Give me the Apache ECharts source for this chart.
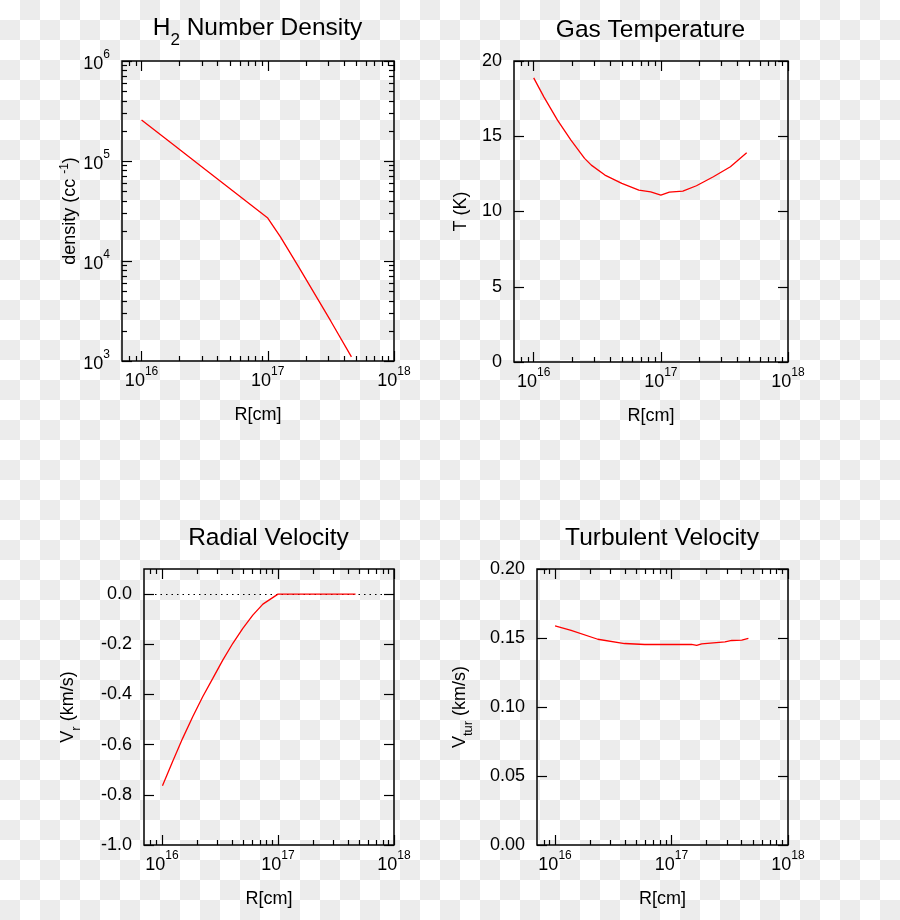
<!DOCTYPE html>
<html>
<head>
<meta charset="utf-8">
<script src="https://cdn.jsdelivr.net/npm/echarts@6/dist/echarts.min.js"></script>
<style>
html,body{margin:0;padding:0;}
body{width:900px;height:920px;background-color:#fff;
background-image:conic-gradient(#ececec 0 25%, #fff 0 50%, #ececec 0 75%, #fff 0);
background-size:40px 40px;}
#chart{width:900px;height:920px;}
</style>
</head>
<body>
<div id="chart"></div>
<script>
// ---- data ----
const R_DENS = [1e16, 1.78e16, 3.16e16, 5.62e16, 1e17, 1.26e17, 1.78e17, 3.16e17, 4.6e17];
const DENSITY = [2.57e5, 1.46e5, 8.3e4, 4.73e4, 2.69e4, 1.74e4, 8.5e3, 2.5e3, 1.1e3];

const R_TEMP = [1e16, 1.202e16, 1.538e16, 1.963e16, 2.512e16, 2.838e16, 3.631e16, 4.932e16, 6.714e16, 8.318e16, 1e17, 1.167e17, 1.489e17, 1.905e17, 2.588e17, 3.524e17, 4.732e17];
const TEMPERATURE = [18.88, 17.62, 16.07, 14.74, 13.53, 13.08, 12.42, 11.87, 11.42, 11.31, 11.09, 11.29, 11.35, 11.71, 12.31, 12.97, 13.9];

const R_VRAD = [1.01e16, 1.233e16, 1.507e16, 1.841e16, 2.244e16, 2.742e16, 3.342e16, 4.083e16, 4.977e16, 6.067e16, 7.413e16, 1e17, 4.66e17];
const V_RADIAL = [-0.764, -0.668, -0.575, -0.489, -0.409, -0.336, -0.263, -0.196, -0.137, -0.084, -0.040, 0, 0];

const R_VTUR = [1e16, 1.374e16, 2.328e16, 3.954e16, 5.888e16, 1e17, 1.486e17, 1.644e17, 1.816e17, 2.877e17, 3.289e17, 4.009e17, 4.571e17];
const V_TURB = [0.1587, 0.1556, 0.1491, 0.146, 0.1453, 0.1453, 0.1453, 0.1446, 0.1457, 0.1472, 0.1482, 0.1484, 0.1498];

const TITLES = ['{n|H}{sub|2}{n| Number Density}', 'Gas Temperature', 'Radial Velocity', 'Turbulent Velocity'];
const X_NAME = 'R[cm]';
const Y_NAMES = ['{n|density (cc }{sup|-1}{n|)}', 'T (K)', '{n|V}{sub|r}{n| (km/s)}', '{n|V}{sub|tur}{n| (km/s)}'];

const X_MAJOR = [1e16, 1e17, 0.99999e18];
const X_MINOR = [8e15, 9e15, 2e16, 3e16, 4e16, 5e16, 6e16, 7e16, 8e16, 9e16, 2e17, 3e17, 4e17, 5e17, 6e17, 7e17, 8e17, 9e17];
const DENS_MAJOR = [1.00001e3, 1e4, 1e5, 0.99999e6];
const DENS_MINOR = [2e3,3e3,4e3,5e3,6e3,7e3,8e3,9e3,2e4,3e4,4e4,5e4,6e4,7e4,8e4,9e4,2e5,3e5,4e5,5e5,6e5,7e5,8e5,9e5];
const TEMP_TICKS = [0, 5, 10, 15, 20];
const VRAD_TICKS = [-1.0, -0.8, -0.6, -0.4, -0.2, 0.0];
const VTUR_TICKS = [0, 0.05, 0.10, 0.15, 0.20];

// ---- layout ----
const FONT = '"Liberation Sans", Arial, Helvetica, sans-serif';
const INK = '#000';
const GRIDS = [
  {left: 122, top: 61, width: 272, height: 300},
  {left: 514, top: 61, width: 274, height: 301},
  {left: 144, top: 569, width: 250, height: 276},
  {left: 537, top: 569, width: 251, height: 276}
];
const TITLE_TOPS = [8, 13, 521, 521];
const TITLE_SHIFT = -5.5;
const X_MIN = 7e15, X_MAX = 1e18;
const Y_NAME_GAP = [41, 44, 65, 66];

const powRich = {
  b: {fontSize: 18, fontFamily: FONT, color: INK, lineHeight: 24, verticalAlign: 'bottom'},
  s: {fontSize: 12, fontFamily: FONT, color: INK, lineHeight: 24, verticalAlign: 'top'}
};
function powFmt(v) {
  const e = Math.round(Math.log10(v));
  return '{b|10}{s|' + e + '}';
}
const nameRich = {
  n: {fontSize: 18, fontFamily: FONT, color: INK, lineHeight: 22, verticalAlign: 'middle'},
  sub: {fontSize: 13, fontFamily: FONT, color: INK, lineHeight: 22, verticalAlign: 'bottom', padding: [0, 0, -4, 0]},
  sup: {fontSize: 12, fontFamily: FONT, color: INK, lineHeight: 22, verticalAlign: 'top'}
};

const grids = GRIDS.map(g => Object.assign({show: true, borderColor: '#000', borderWidth: 1.5, backgroundColor: 'transparent'}, g));

const xAxes = [];
const yAxes = [];

function logX(gi, position, ticks, len, withLabel) {
  const ax = {
    type: 'log', logBase: 10, gridIndex: gi, position: position, min: X_MIN, max: X_MAX,
    axisLine: {show: false, onZero: false},
    splitLine: {show: false},
    axisTick: {show: true, inside: true, length: len, customValues: ticks, lineStyle: {color: INK, width: 1.2}},
    axisLabel: {show: false}
  };
  if (withLabel) {
    ax.axisLabel = {show: true, customValues: X_MAJOR, margin: 5, formatter: powFmt, rich: powRich};
    ax.name = X_NAME;
    ax.nameLocation = 'middle';
    ax.nameGap = 45;
    ax.nameTextStyle = {fontSize: 18, fontFamily: FONT, color: INK};
  }
  xAxes.push(ax);
  return xAxes.length - 1;
}

function yAx(gi, position, cfg) {
  const ax = Object.assign({
    gridIndex: gi, position: position,
    axisLine: {show: false, onZero: false}, splitLine: {show: false}
  }, cfg);
  yAxes.push(ax);
  return yAxes.length - 1;
}

const series = [];
const DATA_SETS = [
  [R_DENS, DENSITY], [R_TEMP, TEMPERATURE], [R_VRAD, V_RADIAL], [R_VTUR, V_TURB]
];

for (let gi = 0; gi < 4; gi++) {
  const xMain = logX(gi, 'bottom', X_MAJOR, 10, true);
  logX(gi, 'bottom', X_MINOR, 5, false);
  logX(gi, 'top', X_MAJOR, 10, false);
  logX(gi, 'top', X_MINOR, 5, false);

  let yMain;
  const nameCfg = {
    name: Y_NAMES[gi], nameLocation: 'middle', nameRotate: 90, nameGap: Y_NAME_GAP[gi],
    nameTextStyle: {fontSize: 18, fontFamily: FONT, color: INK, rich: nameRich}
  };
  if (gi === 0) {
    const base = {type: 'log', logBase: 10, min: 1e3, max: 1e6};
    yMain = yAx(gi, 'left', Object.assign({}, base, nameCfg, {
      axisTick: {show: true, inside: true, length: 10, customValues: DENS_MAJOR, lineStyle: {color: INK, width: 1.2}},
      axisLabel: {show: true, customValues: DENS_MAJOR, margin: 12, formatter: powFmt, rich: powRich}
    }));
    yAx(gi, 'left', Object.assign({}, base, {
      axisTick: {show: true, inside: true, length: 5, customValues: DENS_MINOR, lineStyle: {color: INK, width: 1.2}},
      axisLabel: {show: false}
    }));
    yAx(gi, 'right', Object.assign({}, base, {
      axisTick: {show: true, inside: true, length: 10, customValues: DENS_MAJOR, lineStyle: {color: INK, width: 1.2}},
      axisLabel: {show: false}
    }));
    yAx(gi, 'right', Object.assign({}, base, {
      axisTick: {show: true, inside: true, length: 5, customValues: DENS_MINOR, lineStyle: {color: INK, width: 1.2}},
      axisLabel: {show: false}
    }));
  } else {
    let base, ticks, dec;
    if (gi === 1) { base = {type: 'value', min: 0, max: 20}; ticks = TEMP_TICKS; dec = 0; }
    if (gi === 2) { base = {type: 'value', min: -1.0, max: 0.1}; ticks = VRAD_TICKS; dec = 1; }
    if (gi === 3) { base = {type: 'value', min: 0, max: 0.2}; ticks = VTUR_TICKS; dec = 2; }
    yMain = yAx(gi, 'left', Object.assign({}, base, nameCfg, {
      axisTick: {show: true, inside: true, length: 10, customValues: ticks, lineStyle: {color: INK, width: 1.2}},
      axisLabel: {show: true, customValues: ticks, margin: 12, fontSize: 18, fontFamily: FONT, color: INK,
        formatter: v => Number(v).toFixed(dec)}
    }));
    yAx(gi, 'right', Object.assign({}, base, {
      axisTick: {show: true, inside: true, length: 10, customValues: ticks, lineStyle: {color: INK, width: 1.2}},
      axisLabel: {show: false}
    }));
  }

  const [xs, ys] = DATA_SETS[gi];
  const s = {
    type: 'line', xAxisIndex: xMain, yAxisIndex: yMain,
    data: xs.map((x, i) => [x, ys[i]]),
    showSymbol: false, symbol: 'none', smooth: false,
    lineStyle: {color: '#ff0000', width: 1.3},
    z: 5, silent: true, animation: false
  };
  if (gi === 2) {
    s.markLine = {
      silent: true, symbol: 'none', animation: false, label: {show: false},
      lineStyle: {color: '#000', type: [1.5, 4], width: 1},
      data: [{yAxis: 0}]
    };
  }
  series.push(s);
}

const titles = TITLES.map((t, i) => {
  const g = GRIDS[i];
  return {
    text: t, left: g.left + g.width / 2 + TITLE_SHIFT, top: TITLE_TOPS[i], textAlign: 'center',
    textStyle: {fontSize: 24.5, fontWeight: 'normal', fontFamily: FONT, color: INK,
      rich: {
        n: {fontSize: 24.5, fontFamily: FONT, color: INK, lineHeight: 30, verticalAlign: 'middle'},
        sub: {fontSize: 17, fontFamily: FONT, color: INK, lineHeight: 30, verticalAlign: 'bottom', padding: [0, 0, -6, 0]}
      }}
  };
});

const chart = echarts.init(document.getElementById('chart'), null, {renderer: 'canvas'});
chart.setOption({
  backgroundColor: 'transparent',
  animation: false,
  title: titles,
  grid: grids,
  xAxis: xAxes,
  yAxis: yAxes,
  series: series
});
</script>
</body>
</html>
